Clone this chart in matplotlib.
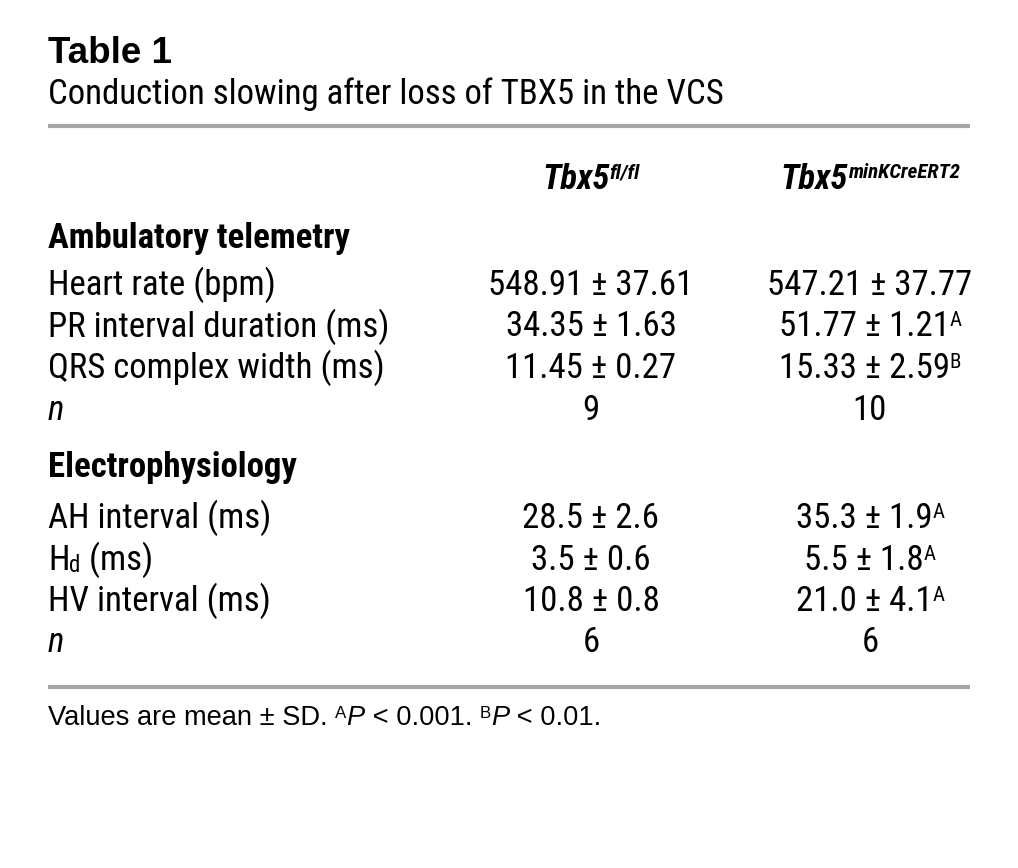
import os
import matplotlib
matplotlib.use("Agg")
import matplotlib.pyplot as plt
from matplotlib import font_manager as fm
from matplotlib.font_manager import FontProperties

# table content
title = "Table 1"
subtitle = "Conduction slowing after loss of TBX5 in the VCS"
col_heads = [("Tbx5", "fl/fl"), ("Tbx5", "minKCreERT2")]

sec1 = "Ambulatory telemetry"
sec1_rows = ["Heart rate (bpm)", "PR interval duration (ms)",
             "QRS complex width (ms)", "n"]
sec1_ctrl = ["548.91 ± 37.61", "34.35 ± 1.63", "11.45 ± 0.27", "9"]
sec1_ko = ["547.21 ± 37.77", "51.77 ± 1.21", "15.33 ± 2.59", "10"]
sec1_sig = ["", "A", "B", ""]

sec2 = "Electrophysiology"
sec2_rows = ["AH interval (ms)", "H|d (ms)", "HV interval (ms)", "n"]
sec2_ctrl = ["28.5 ± 2.6", "3.5 ± 0.6", "10.8 ± 0.8", "6"]
sec2_ko = ["35.3 ± 1.9", "5.5 ± 1.8", "21.0 ± 4.1", "6"]
sec2_sig = ["A", "A", "A", ""]

footnote = [("Values are mean ± SD. ", 0), ("A", 1), ("P", 2), (" < 0.001. ", 0),
            ("B", 1), ("P", 2), (" < 0.01.", 0)]


# look for a condensed sans (the original uses Helvetica Condensed)
def find_condensed():
    prefs = ["liberationsansnarrow", "robotocondensed", "dejavusanscondensed",
             "notosans-condensed", "opensanscondensed", "opensans_condensed"]
    files = set(fm.findSystemFonts()) | {f.fname for f in fm.fontManager.ttflist}
    bad = ["light", "thin", "medium", "black", "semibold", "extrabold", "heavy"]
    for p in prefs:
        hit = [f for f in files if p in os.path.basename(f).lower()]
        if not hit:
            continue
        table = {}
        for f in hit:
            b = os.path.basename(f).lower()
            if any(w in b for w in bad):
                continue
            key = ("bold" in b, "italic" in b or "oblique" in b)
            table.setdefault(key, f)
        if (False, False) in table:
            return table
    return None


FILES = find_condensed()
WIDE = ["Liberation Sans", "DejaVu Sans"]


def fprop(size, weight="normal", style="normal", wide=False):
    key = (weight == "bold", style == "italic")
    if not wide and FILES and key in FILES:
        return FontProperties(fname=FILES[key], size=size)
    return FontProperties(family=WIDE, weight=weight, style=style, size=size)


fig = plt.figure(figsize=(10.18, 8.68), dpi=100)
ax = fig.add_axes([0, 0, 1, 1])
ax.set_xlim(0, 1018)
ax.set_ylim(868, 0)
ax.axis("off")
fig.canvas.draw()
rend = fig.canvas.get_renderer()


def width_of(txt, fp):
    t = ax.text(0, 0, txt, fontproperties=fp)
    w = t.get_window_extent(rend).width
    t.remove()
    return w


# fit body size so the subtitle is as wide as in the original (~695 px)
BODY = min(25.0, 24 * 695 / width_of(subtitle, fprop(24)))
SUP = BODY * 0.6

# footnote is set in a wider face, ~564 px long
fn_plain = "".join(s for s, k in footnote)
FN = min(20.5, 18 * 564 / width_of(fn_plain, fprop(18, wide=True)))


def runs(x, y, parts, ha="left", wide=False):
    # parts: list of (text, size, weight, style, raise_px)
    objs = []
    widths = []
    for txt, size, weight, style, dy in parts:
        t = ax.text(0, y - dy, txt, fontproperties=fprop(size, weight, style, wide),
                    va="baseline", ha="left")
        objs.append(t)
        widths.append(t.get_window_extent(rend).width)
    x0 = x if ha == "left" else x - sum(widths) / 2
    for t, w in zip(objs, widths):
        t.set_x(x0)
        x0 += w
    return objs


ax.text(48, 63, title, fontsize=26.5, fontweight="bold", family=WIDE, va="baseline")
runs(48, 104, [(subtitle, BODY, "normal", "normal", 0)])
ax.plot([48, 970], [126, 126], color="#a6a6a6", lw=3, solid_capstyle="butt")

col_x = [591, 870]
for cx, (main, sup) in zip(col_x, col_heads):
    runs(cx, 189, [(main, BODY, "bold", "italic", 0),
                   (sup, SUP, "bold", "italic", 11)], ha="center")


def value_row(y, label, ctrl, ko, sig):
    if label == "n":
        runs(48, y, [("n", BODY, "normal", "italic", 0)])
    elif "|" in label:
        a, b = label.split("|")
        sub, rest = b.split(" ", 1)
        runs(48, y, [(a, BODY, "normal", "normal", 0),
                     (sub, SUP * 1.1, "normal", "normal", -3),
                     (" " + rest, BODY, "normal", "normal", 0)])
    else:
        runs(48, y, [(label, BODY, "normal", "normal", 0)])
    runs(col_x[0], y, [(ctrl, BODY, "normal", "normal", 0)], ha="center")
    parts = [(ko, BODY, "normal", "normal", 0)]
    if sig:
        parts.append((sig, SUP, "normal", "normal", 10))
    runs(col_x[1], y, parts, ha="center")


runs(48, 248, [(sec1, BODY, "bold", "normal", 0)])
for i in range(4):
    value_row(295 + i * 41.5, sec1_rows[i], sec1_ctrl[i], sec1_ko[i], sec1_sig[i])

runs(48, 477, [(sec2, BODY, "bold", "normal", 0)])
for i in range(4):
    value_row(528 + i * 41.5, sec2_rows[i], sec2_ctrl[i], sec2_ko[i], sec2_sig[i])

ax.plot([48, 970], [687, 687], color="#a6a6a6", lw=3, solid_capstyle="butt")

fn_parts = []
for s, kind in footnote:
    if kind == 1:
        fn_parts.append((s, FN * 0.62, "normal", "normal", 7))
    elif kind == 2:
        fn_parts.append((s, FN, "normal", "italic", 0))
    else:
        fn_parts.append((s, FN, "normal", "normal", 0))
runs(48, 725, fn_parts, wide=True)

fig.savefig("out.png", dpi=100)
